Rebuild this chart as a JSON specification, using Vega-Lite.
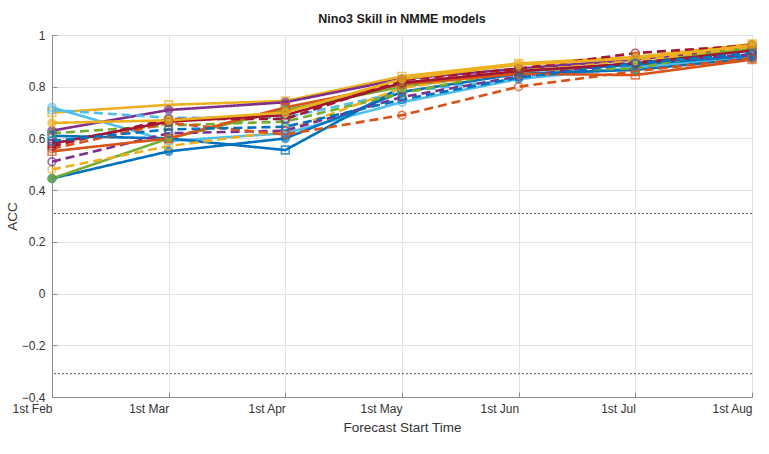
{
  "$schema": "https://vega.github.io/schema/vega-lite/v6.json",
  "width": 700,
  "height": 362,
  "autosize": {"type": "none"},
  "padding": {"left": 52, "top": 35, "right": 17, "bottom": 57},
  "background": "white",
  "title": {"text": "Nino3 Skill in NMME models", "font": "Liberation Sans", "fontSize": 12.5, "fontWeight": "bold", "color": "#1a1a1a", "offset": 4},
  "config": {
    "view": {"stroke": "#8c8c8c", "strokeWidth": 1},
    "axis": {
      "grid": true, "gridColor": "#e3e3e3", "gridWidth": 1,
      "domainColor": "#8c8c8c", "tickColor": "#8c8c8c", "tickSize": -5,
      "labelFont": "Liberation Sans", "labelFontSize": 12, "labelColor": "#333333",
      "titleFont": "Liberation Sans", "titleFontSize": 13.5, "titleFontWeight": "normal", "titleColor": "#333333"
    }
  },
  "datasets": {
    "sig": [{"v": 0.31}, {"v": -0.31}],
    "skill": [
      {"model": "CMC1-CanCM3", "month": "1st Feb", "acc": 0.70},
      {"model": "CMC1-CanCM3", "month": "1st Mar", "acc": 0.73},
      {"model": "CMC1-CanCM3", "month": "1st Apr", "acc": 0.745},
      {"model": "CMC1-CanCM3", "month": "1st May", "acc": 0.84},
      {"model": "CMC1-CanCM3", "month": "1st Jun", "acc": 0.89},
      {"model": "CMC1-CanCM3", "month": "1st Jul", "acc": 0.915},
      {"model": "CMC1-CanCM3", "month": "1st Aug", "acc": 0.965},

      {"model": "CMC2-CanCM4", "month": "1st Feb", "acc": 0.63},
      {"model": "CMC2-CanCM4", "month": "1st Mar", "acc": 0.71},
      {"model": "CMC2-CanCM4", "month": "1st Apr", "acc": 0.74},
      {"model": "CMC2-CanCM4", "month": "1st May", "acc": 0.83},
      {"model": "CMC2-CanCM4", "month": "1st Jun", "acc": 0.87},
      {"model": "CMC2-CanCM4", "month": "1st Jul", "acc": 0.905},
      {"model": "CMC2-CanCM4", "month": "1st Aug", "acc": 0.95},

      {"model": "COLA-RSMAS-CCSM3", "month": "1st Feb", "acc": 0.72},
      {"model": "COLA-RSMAS-CCSM3", "month": "1st Mar", "acc": 0.59},
      {"model": "COLA-RSMAS-CCSM3", "month": "1st Apr", "acc": 0.62},
      {"model": "COLA-RSMAS-CCSM3", "month": "1st May", "acc": 0.74},
      {"model": "COLA-RSMAS-CCSM3", "month": "1st Jun", "acc": 0.83},
      {"model": "COLA-RSMAS-CCSM3", "month": "1st Jul", "acc": 0.875},
      {"model": "COLA-RSMAS-CCSM3", "month": "1st Aug", "acc": 0.92},

      {"model": "COLA-RSMAS-CCSM4", "month": "1st Feb", "acc": 0.71},
      {"model": "COLA-RSMAS-CCSM4", "month": "1st Mar", "acc": 0.68},
      {"model": "COLA-RSMAS-CCSM4", "month": "1st Apr", "acc": 0.68},
      {"model": "COLA-RSMAS-CCSM4", "month": "1st May", "acc": 0.78},
      {"model": "COLA-RSMAS-CCSM4", "month": "1st Jun", "acc": 0.83},
      {"model": "COLA-RSMAS-CCSM4", "month": "1st Jul", "acc": 0.88},
      {"model": "COLA-RSMAS-CCSM4", "month": "1st Aug", "acc": 0.925},

      {"model": "GFDL-CM2p1", "month": "1st Feb", "acc": 0.61},
      {"model": "GFDL-CM2p1", "month": "1st Mar", "acc": 0.60},
      {"model": "GFDL-CM2p1", "month": "1st Apr", "acc": 0.555},
      {"model": "GFDL-CM2p1", "month": "1st May", "acc": 0.80},
      {"model": "GFDL-CM2p1", "month": "1st Jun", "acc": 0.86},
      {"model": "GFDL-CM2p1", "month": "1st Jul", "acc": 0.885},
      {"model": "GFDL-CM2p1", "month": "1st Aug", "acc": 0.92},

      {"model": "GFDL-CM2p1-aer04", "month": "1st Feb", "acc": 0.445},
      {"model": "GFDL-CM2p1-aer04", "month": "1st Mar", "acc": 0.55},
      {"model": "GFDL-CM2p1-aer04", "month": "1st Apr", "acc": 0.60},
      {"model": "GFDL-CM2p1-aer04", "month": "1st May", "acc": 0.78},
      {"model": "GFDL-CM2p1-aer04", "month": "1st Jun", "acc": 0.85},
      {"model": "GFDL-CM2p1-aer04", "month": "1st Jul", "acc": 0.865},
      {"model": "GFDL-CM2p1-aer04", "month": "1st Aug", "acc": 0.91},

      {"model": "GFDL-FLOR-A06", "month": "1st Feb", "acc": 0.445},
      {"model": "GFDL-FLOR-A06", "month": "1st Mar", "acc": 0.60},
      {"model": "GFDL-FLOR-A06", "month": "1st Apr", "acc": 0.71},
      {"model": "GFDL-FLOR-A06", "month": "1st May", "acc": 0.80},
      {"model": "GFDL-FLOR-A06", "month": "1st Jun", "acc": 0.86},
      {"model": "GFDL-FLOR-A06", "month": "1st Jul", "acc": 0.89},
      {"model": "GFDL-FLOR-A06", "month": "1st Aug", "acc": 0.95},

      {"model": "GFDL-FLOR-B01", "month": "1st Feb", "acc": 0.62},
      {"model": "GFDL-FLOR-B01", "month": "1st Mar", "acc": 0.65},
      {"model": "GFDL-FLOR-B01", "month": "1st Apr", "acc": 0.665},
      {"model": "GFDL-FLOR-B01", "month": "1st May", "acc": 0.775},
      {"model": "GFDL-FLOR-B01", "month": "1st Jun", "acc": 0.865},
      {"model": "GFDL-FLOR-B01", "month": "1st Jul", "acc": 0.87},
      {"model": "GFDL-FLOR-B01", "month": "1st Aug", "acc": 0.96},

      {"model": "NASA-GMAO", "month": "1st Feb", "acc": 0.48},
      {"model": "NASA-GMAO", "month": "1st Mar", "acc": 0.57},
      {"model": "NASA-GMAO", "month": "1st Apr", "acc": 0.63},
      {"model": "NASA-GMAO", "month": "1st May", "acc": 0.795},
      {"model": "NASA-GMAO", "month": "1st Jun", "acc": 0.86},
      {"model": "NASA-GMAO", "month": "1st Jul", "acc": 0.90},
      {"model": "NASA-GMAO", "month": "1st Aug", "acc": 0.955},

      {"model": "NASA-GEOSS2S", "month": "1st Feb", "acc": 0.51},
      {"model": "NASA-GEOSS2S", "month": "1st Mar", "acc": 0.62},
      {"model": "NASA-GEOSS2S", "month": "1st Apr", "acc": 0.63},
      {"model": "NASA-GEOSS2S", "month": "1st May", "acc": 0.76},
      {"model": "NASA-GEOSS2S", "month": "1st Jun", "acc": 0.84},
      {"model": "NASA-GEOSS2S", "month": "1st Jul", "acc": 0.895},
      {"model": "NASA-GEOSS2S", "month": "1st Aug", "acc": 0.925},

      {"model": "NCEP-CFSv1", "month": "1st Feb", "acc": 0.55},
      {"model": "NCEP-CFSv1", "month": "1st Mar", "acc": 0.60},
      {"model": "NCEP-CFSv1", "month": "1st Apr", "acc": 0.72},
      {"model": "NCEP-CFSv1", "month": "1st May", "acc": 0.81},
      {"model": "NCEP-CFSv1", "month": "1st Jun", "acc": 0.85},
      {"model": "NCEP-CFSv1", "month": "1st Jul", "acc": 0.845},
      {"model": "NCEP-CFSv1", "month": "1st Aug", "acc": 0.905},

      {"model": "NCEP-CFSv2", "month": "1st Feb", "acc": 0.56},
      {"model": "NCEP-CFSv2", "month": "1st Mar", "acc": 0.66},
      {"model": "NCEP-CFSv2", "month": "1st Apr", "acc": 0.615},
      {"model": "NCEP-CFSv2", "month": "1st May", "acc": 0.69},
      {"model": "NCEP-CFSv2", "month": "1st Jun", "acc": 0.80},
      {"model": "NCEP-CFSv2", "month": "1st Jul", "acc": 0.86},
      {"model": "NCEP-CFSv2", "month": "1st Aug", "acc": 0.91},

      {"model": "IRI-ECHAM4p5-AC", "month": "1st Feb", "acc": 0.58},
      {"model": "IRI-ECHAM4p5-AC", "month": "1st Mar", "acc": 0.665},
      {"model": "IRI-ECHAM4p5-AC", "month": "1st Apr", "acc": 0.69},
      {"model": "IRI-ECHAM4p5-AC", "month": "1st May", "acc": 0.815},
      {"model": "IRI-ECHAM4p5-AC", "month": "1st Jun", "acc": 0.86},
      {"model": "IRI-ECHAM4p5-AC", "month": "1st Jul", "acc": 0.89},
      {"model": "IRI-ECHAM4p5-AC", "month": "1st Aug", "acc": 0.94},

      {"model": "IRI-ECHAM4p5-DC", "month": "1st Feb", "acc": 0.57},
      {"model": "IRI-ECHAM4p5-DC", "month": "1st Mar", "acc": 0.675},
      {"model": "IRI-ECHAM4p5-DC", "month": "1st Apr", "acc": 0.675},
      {"model": "IRI-ECHAM4p5-DC", "month": "1st May", "acc": 0.825},
      {"model": "IRI-ECHAM4p5-DC", "month": "1st Jun", "acc": 0.87},
      {"model": "IRI-ECHAM4p5-DC", "month": "1st Jul", "acc": 0.93},
      {"model": "IRI-ECHAM4p5-DC", "month": "1st Aug", "acc": 0.96},

      {"model": "NCAR-CESM1", "month": "1st Feb", "acc": 0.66},
      {"model": "NCAR-CESM1", "month": "1st Mar", "acc": 0.67},
      {"model": "NCAR-CESM1", "month": "1st Apr", "acc": 0.70},
      {"model": "NCAR-CESM1", "month": "1st May", "acc": 0.83},
      {"model": "NCAR-CESM1", "month": "1st Jun", "acc": 0.885},
      {"model": "NCAR-CESM1", "month": "1st Jul", "acc": 0.91},
      {"model": "NCAR-CESM1", "month": "1st Aug", "acc": 0.96},

      {"model": "NMME-mean", "month": "1st Feb", "acc": 0.59},
      {"model": "NMME-mean", "month": "1st Mar", "acc": 0.635},
      {"model": "NMME-mean", "month": "1st Apr", "acc": 0.645},
      {"model": "NMME-mean", "month": "1st May", "acc": 0.75},
      {"model": "NMME-mean", "month": "1st Jun", "acc": 0.835},
      {"model": "NMME-mean", "month": "1st Jul", "acc": 0.89},
      {"model": "NMME-mean", "month": "1st Aug", "acc": 0.93}
    ]
  },
  "layer": [
    {
      "data": {"name": "sig"},
      "mark": {"type": "rule", "strokeDash": [2, 2], "color": "#555555", "strokeWidth": 1},
      "encoding": {
        "y": {"field": "v", "type": "quantitative", "scale": {"domain": [-0.4, 1], "nice": false, "zero": false}}
      }
    },
    {
      "data": {"name": "skill"},
      "mark": {"type": "line", "strokeWidth": 2.6},
      "encoding": {
        "x": {"field": "month", "type": "ordinal",
          "sort": ["1st Feb", "1st Mar", "1st Apr", "1st May", "1st Jun", "1st Jul", "1st Aug"],
          "scale": {"type": "point", "padding": 0}},
        "y": {"field": "acc", "type": "quantitative", "scale": {"domain": [-0.4, 1], "nice": false, "zero": false}},
        "order": {"value": null},
        "color": {"field": "model", "type": "nominal", "legend": null,
          "scale": {
            "domain": ["CMC1-CanCM3", "CMC2-CanCM4", "COLA-RSMAS-CCSM3", "COLA-RSMAS-CCSM4", "GFDL-CM2p1", "GFDL-CM2p1-aer04", "GFDL-FLOR-A06", "GFDL-FLOR-B01", "NASA-GMAO", "NASA-GEOSS2S", "NCEP-CFSv1", "NCEP-CFSv2", "IRI-ECHAM4p5-AC", "IRI-ECHAM4p5-DC", "NCAR-CESM1", "NMME-mean"],
            "range": ["#EDB120", "#7E2F8E", "#4DBEEE", "#4DBEEE", "#0072BD", "#0072BD", "#77AC30", "#77AC30", "#EDB120", "#7E2F8E", "#D95319", "#D95319", "#A2142F", "#A2142F", "#EDB120", "#0072BD"]
          }},
        "strokeDash": {"field": "model", "type": "nominal", "legend": null,
          "scale": {
            "domain": ["CMC1-CanCM3", "CMC2-CanCM4", "COLA-RSMAS-CCSM3", "COLA-RSMAS-CCSM4", "GFDL-CM2p1", "GFDL-CM2p1-aer04", "GFDL-FLOR-A06", "GFDL-FLOR-B01", "NASA-GMAO", "NASA-GEOSS2S", "NCEP-CFSv1", "NCEP-CFSv2", "IRI-ECHAM4p5-AC", "IRI-ECHAM4p5-DC", "NCAR-CESM1", "NMME-mean"],
            "range": [[1, 0], [1, 0], [1, 0], [9, 5], [1, 0], [1, 0], [1, 0], [9, 5], [9, 5], [9, 5], [1, 0], [9, 5], [1, 0], [9, 5], [1, 0], [9, 5]]
          }}
      }
    },
    {
      "data": {"name": "skill"},
      "mark": {"type": "point", "filled": true, "size": 60, "strokeWidth": 1.7},
      "encoding": {
        "x": {"field": "month", "type": "ordinal",
          "sort": ["1st Feb", "1st Mar", "1st Apr", "1st May", "1st Jun", "1st Jul", "1st Aug"],
          "scale": {"type": "point", "padding": 0},
          "axis": {"title": "Forecast Start Time", "labelAngle": 0, "labelPadding": 16, "titlePadding": 6}},
        "y": {"field": "acc", "type": "quantitative",
          "scale": {"domain": [-0.4, 1], "nice": false, "zero": false},
          "axis": {"title": "ACC", "values": [-0.4, -0.2, 0, 0.2, 0.4, 0.6, 0.8, 1], "labelExpr": "format(datum.value, '~g')", "labelPadding": 12, "titlePadding": 2}},
        "shape": {"field": "model", "type": "nominal", "legend": null,
          "scale": {
            "domain": ["CMC1-CanCM3", "CMC2-CanCM4", "COLA-RSMAS-CCSM3", "COLA-RSMAS-CCSM4", "GFDL-CM2p1", "GFDL-CM2p1-aer04", "GFDL-FLOR-A06", "GFDL-FLOR-B01", "NASA-GMAO", "NASA-GEOSS2S", "NCEP-CFSv1", "NCEP-CFSv2", "IRI-ECHAM4p5-AC", "IRI-ECHAM4p5-DC", "NCAR-CESM1", "NMME-mean"],
            "range": ["square", "circle", "circle", "circle", "square", "circle", "circle", "circle", "circle", "circle", "square", "circle", "circle", "circle", "circle", "circle"]
          }},
        "stroke": {"field": "model", "type": "nominal", "legend": null,
          "scale": {
            "domain": ["CMC1-CanCM3", "CMC2-CanCM4", "COLA-RSMAS-CCSM3", "COLA-RSMAS-CCSM4", "GFDL-CM2p1", "GFDL-CM2p1-aer04", "GFDL-FLOR-A06", "GFDL-FLOR-B01", "NASA-GMAO", "NASA-GEOSS2S", "NCEP-CFSv1", "NCEP-CFSv2", "IRI-ECHAM4p5-AC", "IRI-ECHAM4p5-DC", "NCAR-CESM1", "NMME-mean"],
            "range": ["#EDB120", "#7E2F8E", "#4DBEEE", "#4DBEEE", "#0072BD", "#0072BD", "#77AC30", "#77AC30", "#EDB120", "#7E2F8E", "#D95319", "#D95319", "#A2142F", "#A2142F", "#EDB120", "#0072BD"]
          }},
        "fill": {"field": "model", "type": "nominal", "legend": null,
          "scale": {
            "domain": ["CMC1-CanCM3", "CMC2-CanCM4", "COLA-RSMAS-CCSM3", "COLA-RSMAS-CCSM4", "GFDL-CM2p1", "GFDL-CM2p1-aer04", "GFDL-FLOR-A06", "GFDL-FLOR-B01", "NASA-GMAO", "NASA-GEOSS2S", "NCEP-CFSv1", "NCEP-CFSv2", "IRI-ECHAM4p5-AC", "IRI-ECHAM4p5-DC", "NCAR-CESM1", "NMME-mean"],
            "range": ["transparent", "#7E2F8E", "transparent", "transparent", "transparent", "#0072BD", "#77AC30", "transparent", "transparent", "transparent", "transparent", "transparent", "transparent", "transparent", "#EDB120", "transparent"]
          }}
      }
    }
  ]
}
